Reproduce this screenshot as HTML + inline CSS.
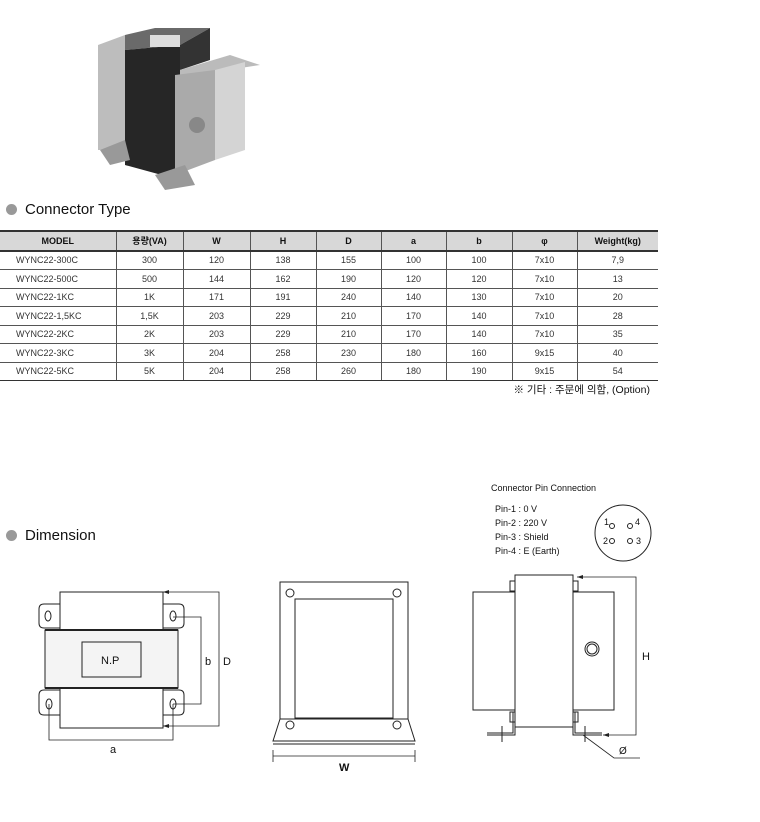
<!DOCTYPE html>
<html><head><meta charset="utf-8"><style>
body{margin:0;background:#fff;width:760px;height:822px;overflow:hidden;position:relative;font-family:"Liberation Sans","Noto Sans CJK KR",sans-serif;}
.h{position:absolute;font-size:15px;color:#111;}
.dot{position:absolute;width:11px;height:11px;border-radius:50%;background:#999;}
table{position:absolute;left:0;top:230px;border-collapse:collapse;width:658px;table-layout:fixed;font-size:9px;color:#333;}
td,th{border:1px solid #555;border-left:1px solid #777;height:17.5px;padding:0;text-align:center;font-weight:normal}
th{background:#d8d8d8;color:#111;font-weight:bold;font-size:9px;border-top:2px solid #333;border-bottom:2px solid #333}
td:first-child,th:first-child{border-left:none}
td:last-child,th:last-child{border-right:none}
td:first-child{text-align:left;padding-left:16px}
tr:last-child td{border-bottom:1.5px solid #333}
</style></head><body>
<svg style="position:absolute;left:0;top:0" width="760" height="822" font-family="Liberation Sans, sans-serif">
<g>
<polygon points="98,45 125,35 125,150 98,150" fill="#bdbdbd"/>
<polygon points="125,35 155,28 210,28 180,45 125,50" fill="#6a6a6a"/>
<polygon points="125,50 180,45 180,180 125,165" fill="#262626"/>
<polygon points="180,45 210,28 210,60 180,70" fill="#333"/>
<polygon points="180,70 230,55 260,65 215,72 180,75" fill="#bbb"/>
<polygon points="175,75 215,70 215,160 175,175" fill="#aaa"/>
<polygon points="215,70 245,62 245,150 215,160" fill="#d4d4d4"/>
<rect x="150" y="35" width="30" height="12" fill="#ddd"/>
<circle cx="197" cy="125" r="8" fill="#888"/>
<polygon points="100,150 125,140 130,160 110,165" fill="#999"/>
<polygon points="155,175 185,165 195,185 165,190" fill="#999"/>
</g>
<g fill="none" stroke="#222" stroke-width="1">
<rect x="60" y="592" width="103" height="38"/>
<path d="M60,604 H44 Q39,604 39,609 V623 Q39,628 44,628 H60"/>
<path d="M163,604 H179 Q184,604 184,609 V623 Q184,628 179,628 H163"/>
<rect x="45" y="630" width="133" height="58" fill="#f4f4f4"/>
<line x1="45" y1="630" x2="178" y2="630" stroke-width="2"/>
<line x1="45" y1="688" x2="178" y2="688" stroke-width="2"/>
<rect x="82" y="642" width="59" height="35"/>
<rect x="60" y="688" width="103" height="40"/>
<path d="M60,690 H44 Q39,690 39,695 V710 Q39,715 44,715 H60"/>
<path d="M163,690 H179 Q184,690 184,695 V710 Q184,715 179,715 H163"/>
<ellipse cx="48" cy="616" rx="3" ry="5"/><ellipse cx="173" cy="616" rx="3" ry="5"/>
<ellipse cx="49" cy="704" rx="3" ry="5"/><ellipse cx="173" cy="704" rx="3" ry="5"/>
<path d="M163,592 H219 V726 H163" stroke-width="0.8"/>
<path d="M173,617 H201 V704 H173" stroke-width="0.8"/>
<path d="M49,704 V740 H173 V704" stroke-width="0.8"/>
<rect x="280" y="582" width="128" height="137"/>
<rect x="295" y="599" width="98" height="119"/>
<circle cx="290" cy="593" r="4"/><circle cx="397" cy="593" r="4"/>
<circle cx="290" cy="725" r="4"/><circle cx="397" cy="725" r="4"/>
<path d="M280,719 L273,741 H415 L408,719"/>
<line x1="273" y1="744" x2="415" y2="744"/>
<path d="M273,750 V762 M415,750 V762 M273,756 H415" stroke-width="0.8"/>
<rect x="515" y="575" width="58" height="152"/>
<rect x="473" y="592" width="42" height="118"/>
<rect x="573" y="592" width="41" height="118"/>
<circle cx="592" cy="649" r="7"/><circle cx="592" cy="649" r="5"/>
<rect x="510" y="581" width="5" height="10"/><rect x="573" y="581" width="5" height="10"/>
<rect x="510" y="712" width="5" height="10"/><rect x="573" y="712" width="5" height="10"/>
<path d="M513,712 V733 H487 M515,712 V735 H487"/>
<path d="M575,712 V733 H602 M573,712 V735 H602"/>
<path d="M502,726 V742 M585,726 V742"/>
<path d="M577,577 H636 V735 H603" stroke-width="0.8"/>
<path d="M583,735 L614,758 H640" stroke-width="0.8"/>
<circle cx="623" cy="533" r="28"/>
<circle cx="612" cy="526" r="2.5"/><circle cx="630" cy="526" r="2.5"/>
<circle cx="612" cy="541" r="2.5"/><circle cx="630" cy="541" r="2.5"/>
</g>
<g fill="#222">
<path d="M163,592 l6,-2 v4z M163,726 l6,-2 v4z M577,577 l6,-2 v4z M603,735 l6,-2 v4z"/>
</g>
<g font-size="11" fill="#111">
<text x="101" y="664">N.P</text>
<text x="205" y="665">b</text><text x="223" y="665">D</text>
<text x="110" y="753">a</text>
<text x="339" y="771" font-weight="bold">W</text>
<text x="642" y="660">H</text>
<text x="619" y="754" font-size="10">Ø</text>
<text x="604" y="525" font-size="9">1</text><text x="635" y="525" font-size="9">4</text>
<text x="603" y="544" font-size="9">2</text><text x="636" y="544" font-size="9">3</text>
</g>
<g font-size="9" fill="#111">
<text x="491" y="491">Connector Pin Connection</text>
<text x="495" y="512">Pin-1 : 0 V</text>
<text x="495" y="526">Pin-2 : 220 V</text>
<text x="495" y="540">Pin-3 : Shield</text>
<text x="495" y="554">Pin-4 : E (Earth)</text>
</g>
</svg>
<div class="dot" style="left:6px;top:204px"></div><div class="h" style="left:25px;top:201px">Connector Type</div>
<div class="dot" style="left:6px;top:530px"></div><div class="h" style="left:25px;top:527px">Dimension</div>
<table>
<colgroup><col style="width:116px"><col style="width:67px"><col style="width:67px"><col style="width:66px"><col style="width:65px"><col style="width:65px"><col style="width:66px"><col style="width:65px"><col style="width:81px"></colgroup>
<tr><th>MODEL</th><th>용량(VA)</th><th>W</th><th>H</th><th>D</th><th>a</th><th>b</th><th>φ</th><th>Weight(kg)</th></tr>
<tr><td>WYNC22-300C</td><td>300</td><td>120</td><td>138</td><td>155</td><td>100</td><td>100</td><td>7x10</td><td>7,9</td></tr>
<tr><td>WYNC22-500C</td><td>500</td><td>144</td><td>162</td><td>190</td><td>120</td><td>120</td><td>7x10</td><td>13</td></tr>
<tr><td>WYNC22-1KC</td><td>1K</td><td>171</td><td>191</td><td>240</td><td>140</td><td>130</td><td>7x10</td><td>20</td></tr>
<tr><td>WYNC22-1,5KC</td><td>1,5K</td><td>203</td><td>229</td><td>210</td><td>170</td><td>140</td><td>7x10</td><td>28</td></tr>
<tr><td>WYNC22-2KC</td><td>2K</td><td>203</td><td>229</td><td>210</td><td>170</td><td>140</td><td>7x10</td><td>35</td></tr>
<tr><td>WYNC22-3KC</td><td>3K</td><td>204</td><td>258</td><td>230</td><td>180</td><td>160</td><td>9x15</td><td>40</td></tr>
<tr><td>WYNC22-5KC</td><td>5K</td><td>204</td><td>258</td><td>260</td><td>180</td><td>190</td><td>9x15</td><td>54</td></tr>
</table>
<div style="position:absolute;right:110px;top:382px;font-size:10.5px;color:#111">※ 기타 : 주문에 의함, (Option)</div>
</body></html>
